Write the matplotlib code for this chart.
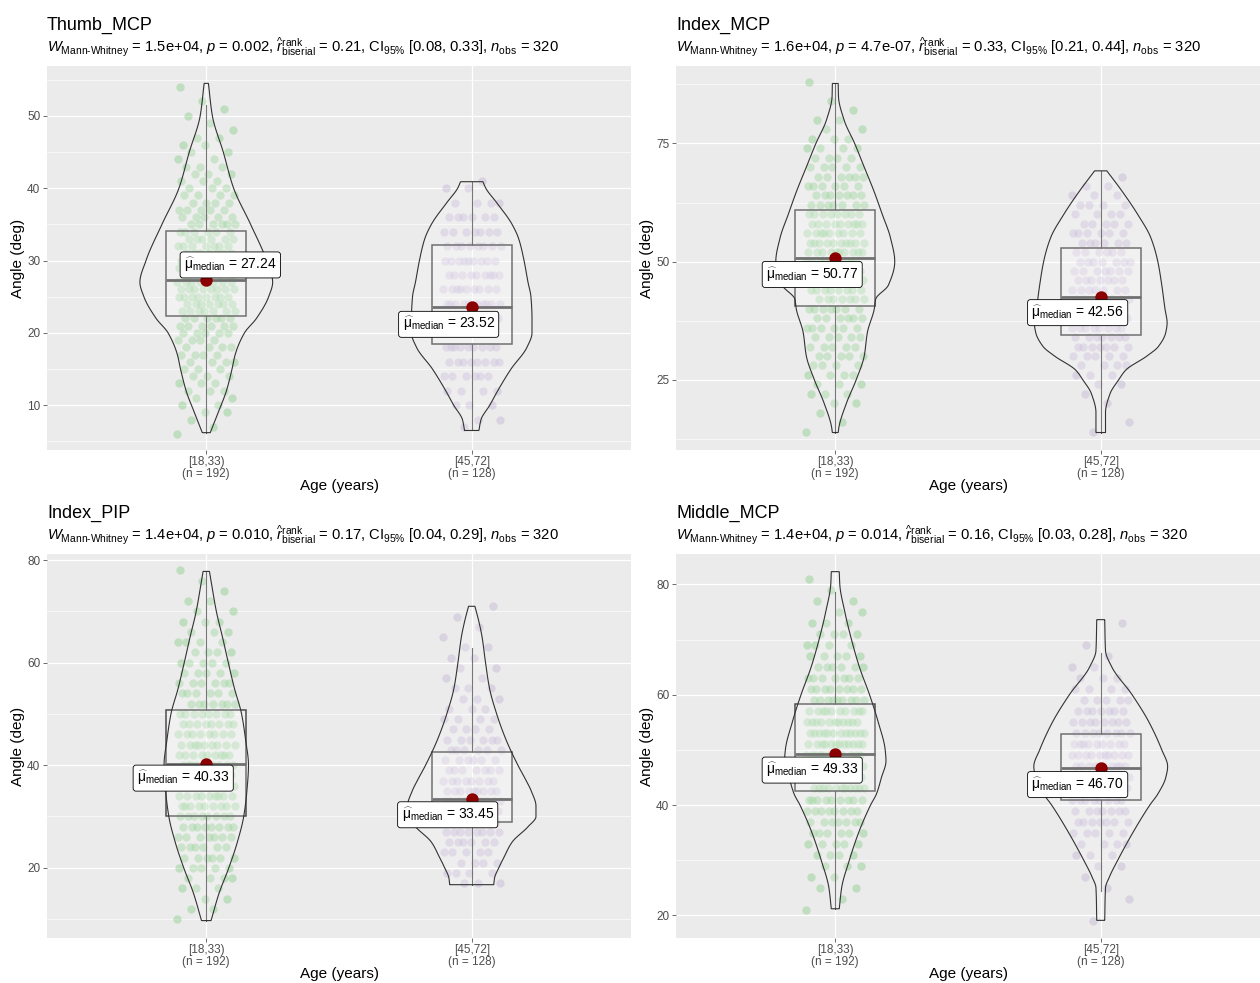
import numpy as np
import matplotlib
matplotlib.use("Agg")
import matplotlib.pyplot as plt

plt.rcParams['font.family'] = ['Liberation Sans', 'DejaVu Sans']
plt.rcParams['mathtext.fontset'] = 'custom'
plt.rcParams['mathtext.rm'] = 'Liberation Sans'
plt.rcParams['mathtext.it'] = 'Liberation Sans:italic'
plt.rcParams['mathtext.bf'] = 'Liberation Sans:bold'
plt.rcParams['mathtext.sf'] = 'Liberation Sans'

# ---------------- data ----------------
titles = ["Thumb_MCP", "Index_MCP", "Index_PIP", "Middle_MCP"]
w_stat = ["1.5e+04", "1.6e+04", "1.4e+04", "1.4e+04"]
p_val = ["0.002", "4.7e-07", "0.010", "0.014"]
r_rb = ["0.21", "0.33", "0.17", "0.16"]
ci_lo = ["0.08", "0.21", "0.04", "0.03"]
ci_hi = ["0.33", "0.44", "0.29", "0.28"]
n_obs = 320
groups = ["[18,33)", "[45,72]"]
group_n = [192, 128]

# box stats per panel: [group1, group2], each (q1, median, q3, whisker_lo, whisker_hi)
box_thumb_mcp = [(22.3, 27.24, 34.1, 6.2, 51.5), (18.5, 23.52, 32.2, 6.5, 40.9)]
box_index_mcp = [(40.6, 50.77, 61.0, 13.8, 87.7), (34.4, 42.56, 52.8, 13.8, 69.2)]
box_index_pip = [(30.1, 40.33, 50.8, 9.7, 77.8), (28.9, 33.45, 42.5, 16.7, 62.9)]
box_middle_mcp = [(42.6, 49.33, 58.3, 21.2, 78.7), (41.0, 46.70, 52.9, 24.5, 67.6)]
box_stats = [box_thumb_mcp, box_index_mcp, box_index_pip, box_middle_mcp]

# violin outlines (angle, half-width in category units)
vio_thumb_g1_y = [6.2, 9, 12, 15, 17, 20, 22, 25, 27, 30, 35, 40, 45, 50, 54.5]
vio_thumb_g1_w = [0.015, 0.045, 0.076, 0.097, 0.109, 0.144, 0.189, 0.235, 0.250, 0.227, 0.167, 0.103, 0.064, 0.023, 0.008]
vio_thumb_g2_y = [6.5, 8, 10, 12, 15, 18, 20, 22, 25, 27, 30, 33, 35, 38, 40, 40.9]
vio_thumb_g2_w = [0.027, 0.035, 0.068, 0.098, 0.148, 0.208, 0.227, 0.227, 0.223, 0.212, 0.197, 0.177, 0.152, 0.094, 0.053, 0.042]
vio_imcp_g1_y = [13.8, 15, 20, 25, 30, 35, 40, 42, 45, 50, 55, 60, 65, 70, 75, 80, 85, 87.7]
vio_imcp_g1_w = [0.011, 0.014, 0.042, 0.079, 0.109, 0.121, 0.147, 0.152, 0.2, 0.224, 0.208, 0.177, 0.145, 0.109, 0.073, 0.033, 0.012, 0.011]
vio_imcp_g2_y = [13.8, 18, 22, 25, 27, 30, 32, 35, 37, 40, 45, 50, 55, 60, 65, 69.2]
vio_imcp_g2_w = [0.018, 0.018, 0.035, 0.068, 0.094, 0.174, 0.217, 0.245, 0.25, 0.242, 0.23, 0.215, 0.189, 0.139, 0.079, 0.023]
vio_ipip_g1_y = [9.7, 15, 20, 25, 30, 35, 40, 45, 50, 55, 60, 65, 70, 75, 77.8]
vio_ipip_g1_w = [0.018, 0.048, 0.085, 0.117, 0.141, 0.153, 0.159, 0.148, 0.133, 0.106, 0.083, 0.061, 0.038, 0.021, 0.012]
vio_ipip_g2_y = [16.7, 18, 20, 22, 25, 28, 30, 32, 35, 37, 40, 45, 50, 55, 60, 65, 68, 71]
vio_ipip_g2_w = [0.083, 0.086, 0.102, 0.121, 0.152, 0.212, 0.242, 0.242, 0.224, 0.205, 0.174, 0.129, 0.094, 0.067, 0.052, 0.039, 0.027, 0.012]
vio_mmcp_g1_y = [21.2, 25, 30, 35, 40, 42, 45, 48, 50, 55, 60, 65, 70, 75, 80, 82.3]
vio_mmcp_g1_w = [0.015, 0.024, 0.053, 0.088, 0.133, 0.155, 0.174, 0.191, 0.188, 0.162, 0.129, 0.091, 0.061, 0.036, 0.017, 0.015]
vio_mmcp_g2_y = [19.1, 25, 27, 30, 35, 40, 42, 45, 47, 50, 55, 60, 65, 68, 73.6]
vio_mmcp_g2_w = [0.015, 0.018, 0.033, 0.064, 0.121, 0.185, 0.215, 0.245, 0.252, 0.23, 0.182, 0.118, 0.042, 0.018, 0.015]
violins = [
    [(vio_thumb_g1_y, vio_thumb_g1_w), (vio_thumb_g2_y, vio_thumb_g2_w)],
    [(vio_imcp_g1_y, vio_imcp_g1_w), (vio_imcp_g2_y, vio_imcp_g2_w)],
    [(vio_ipip_g1_y, vio_ipip_g1_w), (vio_ipip_g2_y, vio_ipip_g2_w)],
    [(vio_mmcp_g1_y, vio_mmcp_g1_w), (vio_mmcp_g2_y, vio_mmcp_g2_w)],
]

# observed angles (value levels and how many observations at each level)
pts_thumb_g1_v = list(range(6, 55))
pts_thumb_g1_c = [1, 1, 1, 2, 2, 2, 3, 3, 3, 3, 4, 4, 4, 4, 5, 6, 6, 7, 7, 8, 8, 8, 8, 8, 8,
                  7, 7, 6, 6, 6, 5, 5, 4, 4, 3, 3, 3, 3, 2, 2, 2, 2, 1, 1, 1, 1, 1, 0, 1]
pts_thumb_g2_v = [7, 8, 10, 12, 14, 16, 18, 20, 22, 24, 26, 28, 30, 32, 34, 36, 38, 40, 41]
pts_thumb_g2_c = [1, 2, 3, 4, 6, 8, 9, 10, 10, 10, 9, 9, 9, 8, 7, 6, 4, 2, 1]
pts_imcp_g1_v = list(range(14, 90, 2))
pts_imcp_g1_c = [1, 1, 1, 2, 3, 3, 4, 4, 5, 5, 5, 6, 6, 7, 7, 8, 9, 10, 10, 10, 10, 9, 9, 8, 7,
                 7, 6, 6, 5, 4, 4, 3, 2, 2, 1, 1, 0, 1]
pts_imcp_g2_v = list(range(14, 70, 2))
pts_imcp_g2_c = [1, 1, 0, 1, 1, 2, 3, 4, 5, 7, 7, 8, 8, 8, 7, 7, 7, 7, 7, 6, 6, 6, 5, 4, 4, 3, 2, 1]
pts_ipip_g1_v = list(range(10, 80, 2))
pts_ipip_g1_c = [1, 2, 2, 3, 4, 5, 6, 6, 7, 8, 8, 9, 9, 10, 10, 10, 9, 9, 8, 8, 8, 7, 6, 6, 5,
                 5, 4, 4, 3, 3, 2, 2, 1, 1, 1]
pts_ipip_g2_v = list(range(17, 73, 2))
pts_ipip_g2_c = [3, 4, 4, 5, 6, 8, 9, 9, 9, 9, 8, 7, 6, 6, 6, 4, 4, 3, 3, 3, 2, 2, 2, 2, 1, 1, 1, 1]
pts_mmcp_g1_v = list(range(21, 83, 2))
pts_mmcp_g1_c = [1, 1, 2, 2, 3, 4, 5, 6, 7, 8, 9, 11, 12, 12, 12, 12, 12, 11, 10, 9, 8, 7, 6, 5, 4,
                 4, 3, 2, 2, 1, 1]
pts_mmcp_g2_v = list(range(19, 75, 2))
pts_mmcp_g2_c = [1, 0, 1, 1, 1, 2, 3, 4, 5, 7, 7, 8, 9, 10, 10, 10, 9, 8, 8, 7, 5, 4, 3, 2, 1, 1, 0, 1]
points = [
    [(pts_thumb_g1_v, pts_thumb_g1_c), (pts_thumb_g2_v, pts_thumb_g2_c)],
    [(pts_imcp_g1_v, pts_imcp_g1_c), (pts_imcp_g2_v, pts_imcp_g2_c)],
    [(pts_ipip_g1_v, pts_ipip_g1_c), (pts_ipip_g2_v, pts_ipip_g2_c)],
    [(pts_mmcp_g1_v, pts_mmcp_g1_c), (pts_mmcp_g2_v, pts_mmcp_g2_c)],
]

y_major = [[10, 20, 30, 40, 50], [25, 50, 75], [20, 40, 60, 80], [20, 40, 60, 80]]
y_minor = [[5, 15, 25, 35, 45, 55], [12.5, 37.5, 62.5, 87.5], [10, 30, 50, 70], [30, 50, 70]]
y_lims = [(3.8, 56.9), (10.1, 91.4), (6.3, 81.2), (15.9, 85.5)]

# ---------------- style / layout ----------------
W, H = 1260, 983
fig = plt.figure(figsize=(W / 100, H / 100), dpi=100)
panel_px = [(47, 66), (676, 66), (47, 554), (676, 554)]  # left, top
pw, ph = 584, 384
pt_colors = ['#7FC97F', '#BEAED4']
label_offsets = [[(17.3, 11.2), (-16.6, -12.2)],
                 [(-16.6, -11.9), (-16.6, -11.5)],
                 [(-16.6, -10.5), (-17.3, -11.5)],
                 [(-16.6, -11.9), (-16.6, -11.9)]]
BG = '#EBEBEB'
TXT = '#4D4D4D'


def pchip(x, y, xs):
    x = np.asarray(x, float)
    y = np.asarray(y, float)
    h = np.diff(x)
    d = np.diff(y) / h
    m = np.zeros_like(y)
    m[0] = d[0]
    m[-1] = d[-1]
    for k in range(1, len(x) - 1):
        if d[k - 1] * d[k] <= 0:
            m[k] = 0
        else:
            w1 = 2 * h[k] + h[k - 1]
            w2 = h[k] + 2 * h[k - 1]
            m[k] = (w1 + w2) / (w1 / d[k - 1] + w2 / d[k])
    idx = np.clip(np.searchsorted(x, xs) - 1, 0, len(h) - 1)
    t = (xs - x[idx]) / h[idx]
    h00 = 2 * t**3 - 3 * t**2 + 1
    h10 = t**3 - 2 * t**2 + t
    h01 = -2 * t**3 + 3 * t**2
    h11 = t**3 - t**2
    return h00 * y[idx] + h10 * h[idx] * m[idx] + h01 * y[idx + 1] + h11 * h[idx] * m[idx + 1]


for i in range(4):
    left, top = panel_px[i]
    ax = fig.add_axes([left / W, 1 - (top + ph) / H, pw / W, ph / H])
    ax.set_facecolor(BG)
    for s in ax.spines.values():
        s.set_visible(False)
    ax.set_xlim(0.4, 2.6)
    ax.set_ylim(*y_lims[i])
    ax.set_yticks(y_major[i])
    ax.set_yticks(y_minor[i], minor=True)
    ax.set_xticks([1, 2])
    ax.set_xticklabels([f"{g}\n(n = {n})" for g, n in zip(groups, group_n)],
                       fontsize=8.5, color=TXT, linespacing=1.0)
    ax.tick_params(axis='y', labelsize=8.5, labelcolor=TXT, color='#333333',
                   length=2.75, width=0.5, pad=2)
    ax.tick_params(axis='x', color='#333333', length=2.75, width=0.5, pad=1.5)
    ax.tick_params(which='minor', length=0)
    ax.grid(True, which='major', color='white', lw=0.9)
    ax.grid(True, which='minor', axis='y', color='white', lw=0.45)
    ax.set_axisbelow(True)

    for g in range(2):
        xc = g + 1
        # jittered points
        lv, cnt = points[i][g]
        vals = np.repeat(np.asarray(lv, float), cnt)
        k = np.arange(len(vals))
        jit = ((k * 0.6180339887 + 0.37 * g) % 1.0 - 0.5) * 0.22
        ax.scatter(xc + jit, vals, s=36, color=pt_colors[g], alpha=0.4,
                   linewidths=0, zorder=2)
        # box
        q1, med, q3, wlo, whi = box_stats[i][g]
        bw = 0.15
        ax.plot([xc, xc], [q3, whi], color='#555555', lw=0.8, zorder=3)
        ax.plot([xc, xc], [wlo, q1], color='#555555', lw=0.8, zorder=3)
        ax.fill([xc - bw, xc + bw, xc + bw, xc - bw], [q1, q1, q3, q3],
                facecolor=(1, 1, 1, 0.2), edgecolor='#4D4D4D', lw=1.1, zorder=3)
        ax.plot([xc - bw, xc + bw], [med, med], color='#4D4D4D', lw=2.0,
                zorder=3, solid_capstyle='butt')
        # violin
        vy, vw = violins[i][g]
        ys = np.linspace(vy[0], vy[-1], 400)
        hw = pchip(vy, vw, ys)
        xs_poly = np.concatenate([xc - hw, (xc + hw)[::-1]])
        ys_poly = np.concatenate([ys, ys[::-1]])
        ax.fill(xs_poly, ys_poly, facecolor=(1, 1, 1, 0.2), edgecolor='#333333',
                lw=0.8, zorder=4)
        # median point + label
        ax.scatter([xc], [med], s=80, color='#8B0000', zorder=5, linewidths=0)
        dx, dy = label_offsets[i][g]
        ax.annotate(r'$\widehat{\mathrm{\mu}}_{\mathrm{median}}$ = ' + f'{med:.2f}',
                    xy=(xc, med), xytext=(dx, dy), textcoords='offset points',
                    ha='center', va='center', fontsize=10, zorder=6,
                    bbox=dict(boxstyle='round,pad=0.28,rounding_size=0.2',
                              fc='white', ec='black', lw=0.6))

    # titles
    fig.text(left / W, 1 - (top - 36) / H, titles[i], fontsize=13, va='baseline', ha='left')
    sub = (r"$W_{\mathrm{Mann\text{-}Whitney}}$ = " + w_stat[i] + ", $p$ = " + p_val[i]
           + r", $\widehat{r}_{\mathrm{biserial}}^{\mathrm{rank}}$ = " + r_rb[i]
           + r", CI$_{95\%}$ [" + ci_lo[i] + ", " + ci_hi[i] + r"], $n_{\mathrm{obs}}$ = "
           + str(n_obs))
    fig.text(left / W, 1 - (top - 13) / H, sub, fontsize=10.6, va='baseline', ha='left')
    # axis titles
    fig.text((left - 29) / W, 1 - (top + ph / 2) / H, "Angle (deg)", rotation=90,
             fontsize=11, ha='center', va='center')
    fig.text((left + pw / 2) / W, 1 - (top + ph + 36) / H, "Age (years)",
             fontsize=11, ha='center', va='center')

fig.savefig("out.png", dpi=100, facecolor='white')
